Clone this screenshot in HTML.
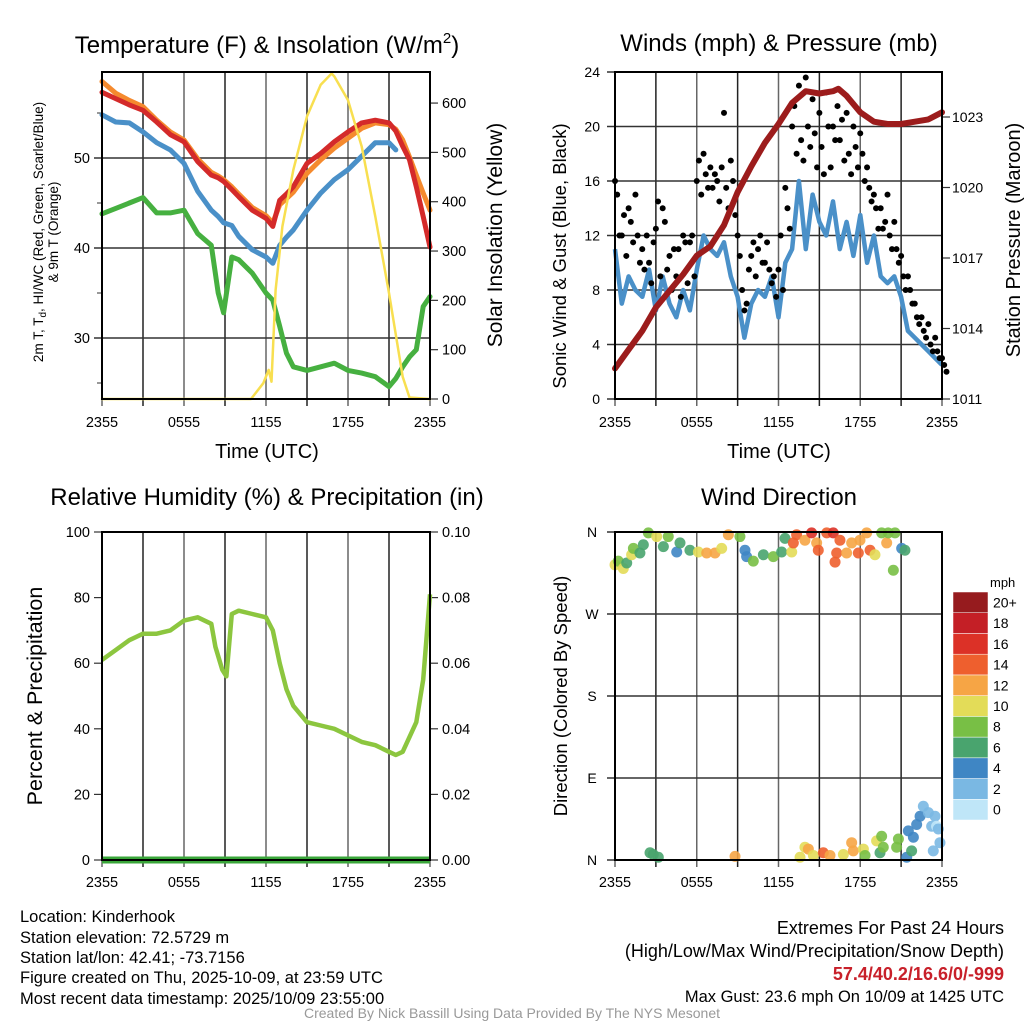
<!DOCTYPE html>
<html><head><meta charset="utf-8"><title>Kinderhook Meteogram</title>
<style>
html,body{margin:0;padding:0;background:#fff;}
svg{display:block;font-family:"Liberation Sans",Arial,sans-serif;}
</style></head>
<body>
<svg id="chart" width="1024" height="1024" viewBox="0 0 1024 1024" xmlns="http://www.w3.org/2000/svg">
<rect x="0" y="0" width="1024" height="1024" fill="#fff"/>
<text x="267" y="53" font-size="24" text-anchor="middle">Temperature (F) &amp; Insolation (W/m<tspan font-size="15" dy="-10">2</tspan><tspan dy="10">)</tspan></text>
<text x="779" y="51" font-size="24" text-anchor="middle">Winds (mph) &amp; Pressure (mb)</text>
<text x="267" y="505" font-size="24" text-anchor="middle">Relative Humidity (%) &amp; Precipitation (in)</text>
<text x="779" y="505" font-size="24" text-anchor="middle">Wind Direction</text>

<text transform="translate(43,232) rotate(-90)" font-size="13.5" text-anchor="middle">2m T, T<tspan font-size="10" dy="3">d</tspan><tspan dy="-3">, HI/WC (Red, Green, Scarlet/Blue)</tspan></text>
<text transform="translate(58,232) rotate(-90)" font-size="13.5" text-anchor="middle">&amp; 9m T (Orange)</text>
<text transform="translate(502,235) rotate(-90)" font-size="21" text-anchor="middle">Solar Insolation (Yellow)</text>
<text x="267" y="458" font-size="20" text-anchor="middle">Time (UTC)</text>
<text transform="translate(566,256) rotate(-90)" font-size="18.5" text-anchor="middle">Sonic Wind &amp; Gust (Blue, Black)</text>
<text transform="translate(1020,240) rotate(-90)" font-size="20" text-anchor="middle">Station Pressure (Maroon)</text>
<text x="779" y="458" font-size="20" text-anchor="middle">Time (UTC)</text>
<text transform="translate(42,696) rotate(-90)" font-size="21.5" text-anchor="middle">Percent &amp; Precipitation</text>
<text transform="translate(567,696) rotate(-90)" font-size="18.5" text-anchor="middle">Direction (Colored By Speed)</text>

<g font-size="16.5">
<text x="20" y="922">Location: Kinderhook</text>
<text x="20" y="943">Station elevation: 72.5729 m</text>
<text x="20" y="963">Station lat/lon: 42.41; -73.7156</text>
<text x="20" y="983">Figure created on Thu, 2025-10-09, at 23:59 UTC</text>
<text x="20" y="1004">Most recent data timestamp: 2025/10/09 23:55:00</text>
</g>
<g font-size="18" text-anchor="end">
<text x="1004" y="934">Extremes For Past 24 Hours</text>
<text x="1004" y="957">(High/Low/Max Wind/Precipitation/Snow Depth)</text>
<text x="1004" y="980" fill="#c8202a" font-weight="bold">57.4/40.2/16.6/0/-999</text>
<text x="1004" y="1002" font-size="16.5">Max Gust: 23.6 mph On 10/09 at 1425 UTC</text>
</g>
<text x="512" y="1018" font-size="14" fill="#999" text-anchor="middle">Created By Nick Bassill Using Data Provided By The NYS Mesonet</text>
</svg>
<script>
// ---- Temperature panel data ----
const tempHours = [0,1,2,3,4,5,6,7,8,8.5,8.9,9.5,10,11,12,12.5,13,13.5,14,15,16,17,18,19,20,21,21.5,22,22.5,23,23.5,24];
const temp2m = [57.3,56.6,55.9,55.3,54.0,52.6,51.8,49.6,48.1,47.8,47.4,46.5,45.7,44.2,43.3,42.4,45.3,46.0,46.8,49.4,50.5,51.8,52.9,53.9,54.2,53.9,53.0,51.3,49.8,46.8,43.5,40.1];
const temp9m = [58.5,57.2,56.4,55.7,54.2,52.9,52.0,49.9,48.4,48.0,47.6,46.8,46.0,44.5,43.6,42.8,44.8,45.5,46.2,48.3,49.8,51.1,52.2,53.3,53.9,53.7,53.2,52.0,50.1,48.1,46.1,44.2];
const heatWindChill = [54.8,54.0,53.9,52.9,51.7,50.9,49.4,46.3,44.2,43.5,42.8,42.5,41.3,39.8,39.0,38.3,40.3,41.2,42.0,44.2,46.1,47.6,48.7,50.2,51.7,51.7,50.9,null,null,null,null,null];
const dewPoint = [43.8,44.4,45.0,45.6,43.9,43.9,44.2,41.6,40.3,35.0,32.8,39.0,38.7,37.2,35.0,34.2,31.3,28.3,26.8,26.4,26.8,27.2,26.4,26.1,25.7,24.6,25.5,26.8,27.9,28.7,33.5,34.6];
const solarHours = [0,10.9,11.8,12.2,12.4,12.7,13.2,14,15,16,16.8,17,18,19,20,21,22,22.5,24];
const solar = [0,0,32,59,35,221,350,464,573,637,660,654,606,512,370,215,45,3,0];
const tempTicks = [30,40,50];
const solarTicks = [0,100,200,300,400,500,600];
const timeTickLabels = ["2355","0555","1155","1755","2355"];
// ---- Wind panel data ----
const windHours = [0,0.5,1,1.5,2,2.5,3,3.5,4,4.5,5,5.5,6,6.5,7,7.5,8,8.5,9,9.5,10,10.5,11,11.5,12,12.5,13,13.5,14,14.5,15,15.5,16,16.5,17,17.5,18,18.5,19,19.5,20,20.5,21,21.5,22,22.5,23,23.5,24];
const windSpeed = [11,7,9,8,7.5,9.5,6.5,9,7,6,8,6.5,9.5,12,11,10.5,11.5,9,7.5,4.5,7,8,7.5,9,6,10,11,16,11,15,13,12,14.5,11,13,10.5,13.5,10,12,9,8.5,9,7.5,5,4.5,4,3.5,3,2.5];
const gustA = [16,12,14,15,11,10,12.5,14,10.5,9,12,11.5,16,18,17,16,21,17.5,12,6.5,10.5,11,10,8.5,9.5,15.5,20,23,23.6,22,21,22.5,20,19,21,20,19.5,17,15,14,15,13,10.5,9,7,6,5.5,4.5,3];
const gustB = [15,13.5,13,12,9.5,8.5,14.5,13,8,11,11.5,12,17.5,16.5,15.5,14.5,15.5,16,10.5,7,11.5,12,11.5,9,12,14,21.5,19,20,19.5,18.5,20,19,20.5,18,18.5,18,15.5,14,12.5,12,11,9,8,6,5,4,3.5,2.5];
const gustC = [12,10.5,11.5,10,12,11.5,9,9.5,11,7.5,8.5,9,15,15.5,16.5,17,14,13.5,8,9.5,9,10,9.5,7.5,8,12.5,18,17.5,18.5,17,16.5,17,21.5,17.5,16.5,17,16,14.5,12.5,13,11,10,8,7,5.5,4.5,3.5,3,2];
const pressureHours = [0,1,2,3,4,5,6,7,8,9,10,11,12,13,14,15,16,16.4,17,18,19,20,21,22,23,24];
const pressure = [1012.3,1013.1,1013.9,1014.9,1015.6,1016.3,1017.1,1017.5,1018.4,1019.8,1020.9,1021.9,1022.7,1023.6,1024.1,1024.0,1024.1,1024.2,1023.9,1023.2,1022.8,1022.7,1022.7,1022.8,1022.9,1023.2];
const windTicks = [0,4,8,12,16,20,24];
const pressureTicks = [1011,1014,1017,1020,1023];
// ---- Humidity panel data ----
const rhHours = [0,1,2,3,4,5,6,7,8,8.3,8.8,9.1,9.5,10,11,12,12.5,13,13.5,14,15,16,17,18,19,20,21,21.5,22,23,23.5,24];
const rh = [61,64,67,69,69,70,73,74,72,65,58,56,75,76,75,74,70,60,52,47,42,41,40,38,36,35,33,32,33,42,55,81];
const precipHours = [0,24];
const precip = [0,0];
const rhTicks = [0,20,40,60,80,100];
const precipTicks = ["0.00","0.02","0.04","0.06","0.08","0.10"];
// ---- Wind direction data ----
const dirHours = [0,0.24,0.61,0.86,1.22,1.35,1.83,2.08,2.45,3.06,3.55,3.91,4.53,4.77,5.5,6.12,6.73,7.34,7.83,8.32,9.17,9.54,9.66,10.15,10.89,11.62,12.23,12.48,12.97,13.09,13.33,13.94,14.43,14.8,14.92,15.54,16.02,16.15,16.27,16.51,17.0,17.37,17.86,17.98,18.47,18.72,19.08,19.57,19.94,20.06,20.43,20.55,21.04,21.28,
 2.57,2.81,3.18,8.81,13.58,13.94,14.19,14.56,15.29,15.78,16.76,17.37,17.49,18.23,18.35,19.2,19.45,19.57,19.69,20.67,20.8,21.41,21.53,21.77,21.9,22.14,22.39,22.63,23.0,23.24,23.36,23.49,23.6,23.73,23.85];
const dirDegrees = [324,328,320,326,335,342,337,346,359,355,344,355,338,348,340,338,337,337,342,357,355,340,333,328,335,333,338,353,338,348,357,351,359,348,340,359,359,327,337,351,337,348,337,351,359,340,335,359,348,359,318,359,342,340,
 8,6,3,4,3,14,12,5,8,5,6,19,10,12,5,21,8,26,14,14,23,3,32,10,25,39,48,59,52,37,10,48,37,34,19];
const dirSpeed = [10,8,10,7,10,8,6,6,8,10,6,8,4,6,7,10,12,12,10,12,8,4,4,8,7,8,7,6,10,14,14,12,16,12,14,14,16,14,14,14,12,12,14,12,12,14,10,8,12,8,8,8,4,6,
 6,7,6,12,10,10,12,10,14,12,10,12,12,10,8,10,6,8,8,8,8,4,4,6,4,4,4,2,2,2,2,2,1,2,2];
const dirTickLabels = ["N","E","S","W","N"];
const speedLabels = ["0","2","4","6","8","10","12","14","16","18","20+"];
const speedColors = ["#bfe6f8","#7ab8e3","#3f86c4","#49a46e","#78bf45","#e3dc58","#f6a545","#ee5f2e","#dc3127","#c41f26","#961b1e"];

const NS = "http://www.w3.org/2000/svg";
const svg = document.getElementById("chart");
function mk(tag, attrs, parent){
  const el = document.createElementNS(NS, tag);
  for (const k in attrs) el.setAttribute(k, attrs[k]);
  (parent||svg).appendChild(el);
  return el;
}
function pathFrom(xs, ys, xf, yf){
  let d = "", pen = false;
  for (let i=0;i<xs.length;i++){
    if (ys[i]===null || ys[i]===undefined){ pen=false; continue; }
    d += (pen?"L":"M") + xf(xs[i]).toFixed(1) + "," + yf(ys[i]).toFixed(1);
    pen = true;
  }
  return d;
}
function panelFrame(P, name){
  const g = mk("g", {});
  
  
  for (let k=0;k<=8;k++){
    const x = P.L + k*(P.R-P.L)/8;
    const ln = mk("line", {x1:x,x2:x,y1:P.T,y2:P.B+7,stroke:(k%2? "#222":"#666"),"stroke-width":1.5}, g);
    
    
  }
  return g;
}
function xLabels(P, y, name){
  timeTickLabels.forEach((lab,i)=>{
    const t = mk("text", {x:P.L + i*(P.R-P.L)/4, y:y, "font-size":14.5, "text-anchor":"middle"});
    t.textContent = lab;
    
    
  });
}
function border(P, name){
  const r = mk("rect", {x:P.L,y:P.T,width:P.R-P.L,height:P.B-P.T,fill:"none",stroke:"#000","stroke-width":2});
  
  
}

// ================= Panel 1 =================
const P1 = {L:102,R:430,T:72,B:399};
const x1 = h => P1.L + h*(P1.R-P1.L)/24;
const yT = t => 158 - (t-50)*9;
const yS = s => P1.B - s*(P1.B-P1.T)/663;
panelFrame(P1, "temperature");
tempTicks.forEach(t=>{
  const ln = mk("line",{x1:P1.L-8,x2:P1.R,y1:yT(t),y2:yT(t),stroke:"#333","stroke-width":1.5});
  
  
  const tx = mk("text",{x:P1.L-12,y:yT(t)+5,"font-size":14.5,"text-anchor":"end"});
  tx.textContent = t;
  
  
});
[25,35,45,55].forEach(t=>{
  const ln = mk("line",{x1:P1.L-5,x2:P1.L,y1:yT(t),y2:yT(t),stroke:"#333","stroke-width":1});
  
  
});
solarTicks.forEach(s=>{
  const ln = mk("line",{x1:P1.R,x2:P1.R+8,y1:yS(s),y2:yS(s),stroke:"#333","stroke-width":1.2});
  
  
  const tx = mk("text",{x:P1.R+12,y:yS(s)+5,"font-size":14.5});
  tx.textContent = s;
  
  
});
[
 [tempHours, dewPoint, "#46b040", "dewpoint-line", yT, 5],
 [tempHours, heatWindChill, "#4a90c8", "heat-index-windchill-line", yT, 5],
 [tempHours, temp9m, "#f58a2e", "temperature-9m-line", yT, 5],
 [tempHours, temp2m, "#d42a2a", "temperature-2m-line", yT, 5],
 [solarHours, solar, "#f8df50", "solar-insolation-line", yS, 2.5]
].forEach(s=>{
  const p = mk("path",{d:pathFrom(s[0],s[1],x1,s[4]),fill:"none",stroke:s[2],"stroke-width":s[5],"stroke-linejoin":"round","stroke-linecap":"round"});
  
  
});
border(P1,"temperature");
xLabels(P1, 427, "temperature");

// ================= Panel 2 =================
const P2 = {L:615,R:942,T:72,B:399};
const x2 = h => P2.L + h*(P2.R-P2.L)/24;
const yW = v => P2.B - v*(P2.B-P2.T)/24;
const yP = p => P2.B - (p-1011)*23.5;
panelFrame(P2, "wind");
windTicks.forEach(v=>{
  const ln = mk("line",{x1:P2.L-8,x2:P2.R,y1:yW(v),y2:yW(v),stroke:"#333","stroke-width":1.5});
  
  
  const tx = mk("text",{x:P2.L-15,y:yW(v)+5,"font-size":14,"text-anchor":"end"});
  tx.textContent = v;
  
  
});
pressureTicks.forEach(p=>{
  const ln = mk("line",{x1:P2.R,x2:P2.R+8,y1:yP(p),y2:yP(p),stroke:"#333","stroke-width":1.2});
  
  
  const tx = mk("text",{x:P2.R+10,y:yP(p)+5,"font-size":14});
  tx.textContent = p;
  
  
});
const wl = mk("path",{d:pathFrom(windHours,windSpeed,x2,yW),fill:"none",stroke:"#4a90c8","stroke-width":4.5,"stroke-linejoin":"round"});


[gustA,gustB,gustC].forEach(arr=>{
  arr.forEach((g,i)=>{
    const c = mk("circle",{cx:x2(windHours[i] + (arr===gustB?0.16:arr===gustC?0.33:0)),cy:yW(g),r:3,fill:"#000"});
    
    
  });
});
const pl = mk("path",{d:pathFrom(pressureHours,pressure,x2,yP),fill:"none",stroke:"#9c1c1c","stroke-width":6,"stroke-linejoin":"round","stroke-linecap":"round"});


border(P2,"wind");
xLabels(P2, 427, "wind");

// ================= Panel 3 =================
const P3 = {L:102,R:430,T:532,B:860};
const x3 = h => P3.L + h*(P3.R-P3.L)/24;
const yR = r => P3.B - r*(P3.B-P3.T)/100;
const yPr = v => P3.B - v*(P3.B-P3.T)/0.10;
panelFrame(P3, "humidity");
rhTicks.forEach((r,i)=>{
  const tk = mk("line",{x1:P3.L-8,x2:P3.L,y1:yR(r),y2:yR(r),stroke:"#333","stroke-width":1.2});
  
  
  const tk2 = mk("line",{x1:P3.R,x2:P3.R+8,y1:yR(r),y2:yR(r),stroke:"#333","stroke-width":1.2});
  
  
  const tx = mk("text",{x:P3.L-12,y:yR(r)+5,"font-size":14.5,"text-anchor":"end"});
  tx.textContent = r;
  
  
  const tx2 = mk("text",{x:P3.R+12,y:yR(r)+5,"font-size":14.5});
  tx2.textContent = precipTicks[i];
  
  
});
const rl = mk("path",{d:pathFrom(rhHours,rh,x3,yR),fill:"none",stroke:"#8cc63f","stroke-width":4.5,"stroke-linejoin":"round"});


const prl = mk("path",{d:pathFrom(precipHours,precip,x3,yPr),fill:"none",stroke:"#3aa63a","stroke-width":7});


border(P3,"humidity");
xLabels(P3, 887, "humidity");

// ================= Panel 4 =================
const P4 = {L:615,R:942,T:532,B:860};
const x4 = h => P4.L + h*(P4.R-P4.L)/24;
const yD = d => P4.B - d*(P4.B-P4.T)/360;
panelFrame(P4, "direction");
dirTickLabels.forEach((lab,i)=>{
  const y = yD(i*90);
  const ln = mk("line",{x1:P4.L-8,x2:P4.R,y1:y,y2:y,stroke:"#333","stroke-width":1.5});
  
  
  const tx = mk("text",{x:P4.L-23,y:y+5,"font-size":14,"text-anchor":"middle"});
  tx.textContent = lab;
  
  
});
dirHours.forEach((h,i)=>{
  const bin = Math.min(10, Math.floor(dirSpeed[i]/2));
  const c = mk("circle",{cx:x4(h),cy:yD(dirDegrees[i]),r:5.5,fill:speedColors[bin],"fill-opacity":0.9});
  
  
});
border(P4,"direction");
xLabels(P4, 887, "direction");
// colorbar
const cbT = 592, cbB = 820, cbH = (cbB-cbT)/speedLabels.length;
const cbTitle = mk("text",{x:990,y:587,"font-size":13});
cbTitle.textContent = "mph";


speedLabels.forEach((lab,i)=>{
  const y = cbB - (i+1)*cbH;
  const r = mk("rect",{x:953,y:y,width:35,height:cbH,fill:speedColors[i],stroke:"#fff","stroke-width":0.5});
  
  
  const tx = mk("text",{x:993,y:y+cbH/2+5,"font-size":14});
  tx.textContent = lab;
  
  
});
</script>
</body></html>
